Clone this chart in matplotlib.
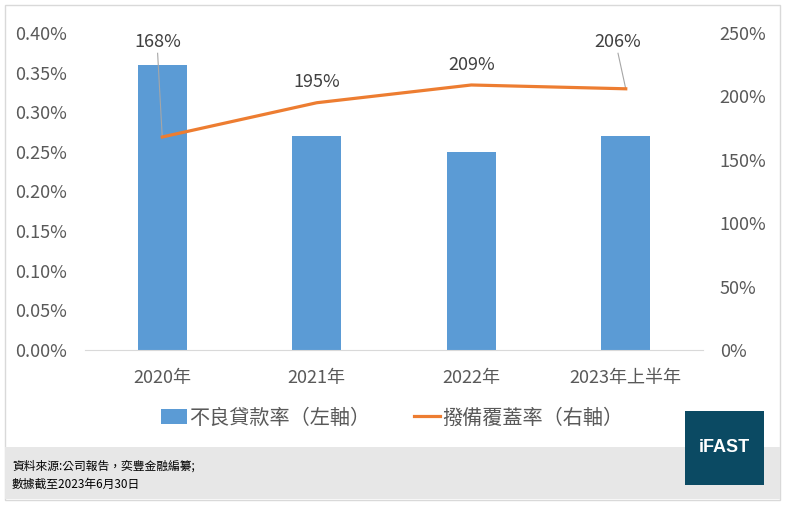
import matplotlib.pyplot as plt
from matplotlib.patches import Rectangle

plt.rcParams['font.family'] = ['Noto Sans CJK TC', 'DejaVu Sans']

years = ["2020年", "2021年", "2022年", "2023年上半年"]
npl_ratio = [0.36, 0.27, 0.25, 0.27]          # 不良貸款率 (%)
coverage = [168, 195, 209, 206]               # 撥備覆蓋率 (%)
left_ticks = [0.00, 0.05, 0.10, 0.15, 0.20, 0.25, 0.30, 0.35, 0.40]
right_ticks = [0, 50, 100, 150, 200, 250]

blue = "#5B9BD5"
orange = "#ED7D31"
grey_txt = "#595959"

fig = plt.figure(figsize=(7.86, 5.05), dpi=100)

# outer frame and bottom grey band
fig.patches.append(Rectangle((5 / 786, 5 / 505), 775 / 786, 495 / 505, transform=fig.transFigure,
                             facecolor="white", edgecolor="#D9D9D9", lw=1, zorder=-2))
fig.patches.append(Rectangle((5 / 786, 6 / 505), 775 / 786, 52 / 505, transform=fig.transFigure,
                             facecolor="#E7E7E7", edgecolor="none", zorder=-1))

ax = fig.add_axes([85 / 786, 155 / 505, 618 / 786, 317 / 505])
ax.patch.set_alpha(0)
x = range(len(years))
bars = ax.bar(x, npl_ratio, width=0.32, color=blue, label="不良貸款率（左軸）", zorder=2)
ax.set_xlim(-0.5, 3.5)
ax.set_ylim(0, 0.40)
ax.set_yticks(left_ticks)
ax.set_yticklabels([f"{v:.2f}%" for v in left_ticks])
ax.set_xticks(list(x))
ax.set_xticklabels(years)
for s in ["top", "right", "left"]:
    ax.spines[s].set_visible(False)
ax.spines["bottom"].set_color("#D9D9D9")
ax.tick_params(axis="y", length=0, pad=13, labelsize=13, labelcolor=grey_txt)
ax.tick_params(axis="x", length=0, pad=14, labelsize=13, labelcolor=grey_txt)

ax2 = ax.twinx()
line, = ax2.plot(list(x), coverage, color=orange, lw=2.3, label="撥備覆蓋率（右軸）", zorder=3)
ax2.set_ylim(0, 250)
ax2.set_yticks(right_ticks)
ax2.set_yticklabels([f"{v}%" for v in right_ticks])
for s in ["top", "right", "left", "bottom"]:
    ax2.spines[s].set_visible(False)
ax2.tick_params(axis="y", length=0, pad=12, labelsize=13, labelcolor=grey_txt)

# data labels (first and last with leader lines)
label_dx = [-0.03, 0.0, 0.0, -0.05]
label_y = [243, 211, 225, 243]
for i, v in enumerate(coverage):
    ax2.text(i + label_dx[i], label_y[i], f"{v}%", ha="center", va="center",
             fontsize=13, color="#404040")
for i in (0, 3):
    ax2.plot([i + label_dx[i], i], [label_y[i] - 9, coverage[i]], color="#A6A6A6", lw=0.8, zorder=1)

ax.legend(handles=[bars, line], loc="center", bbox_to_anchor=(392 / 786, 87 / 505),
          bbox_transform=fig.transFigure, ncol=2, frameon=False,
          prop={"size": 14.5, "weight": "light"},
          handlelength=1.3, handleheight=0.7, columnspacing=2.2, handletextpad=0.1,
          labelcolor=grey_txt)

fig.text(12 / 786, 39 / 505, "資料來源:公司報告，奕豐金融編纂;", fontsize=8.5, color="black", va="center")
fig.text(12 / 786, 21 / 505, "數據截至2023年6月30日", fontsize=8.5, color="black", va="center")

fig.patches.append(Rectangle((685 / 786, 20 / 505), 79 / 786, 74 / 505, transform=fig.transFigure,
                             facecolor="#0B4A63", edgecolor="none", zorder=3))
fig.text(724.5 / 786, 57 / 505, "iFAST", fontsize=13, fontweight="bold", color="white",
         ha="center", va="center", family=["Liberation Sans", "DejaVu Sans"], zorder=4)

fig.savefig("out.png", dpi=100)
